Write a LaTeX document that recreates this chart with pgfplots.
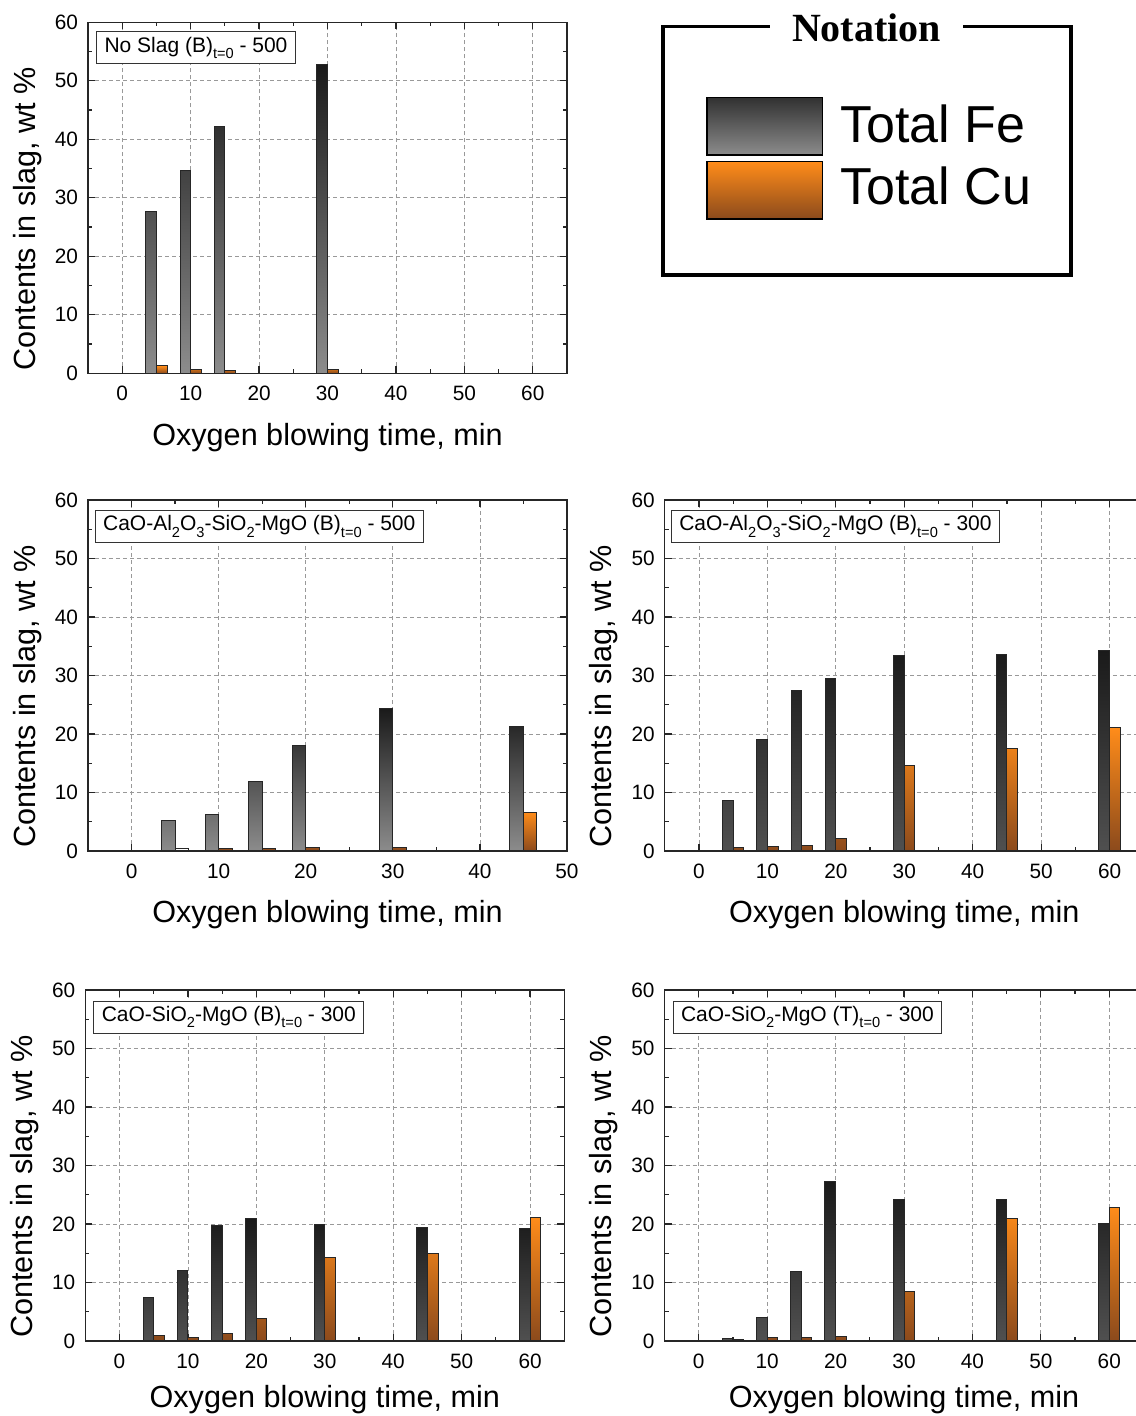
\documentclass[border=0pt]{standalone}
\usepackage{fontspec}
\setmainfont{Liberation Sans}
\newfontfamily\serifbold{Liberation Serif}
\usepackage{pgfplots}
\pgfplotsset{compat=1.18}
\definecolor{feTop}{HTML}{1A1A1A}
\definecolor{feBotA}{HTML}{8C8C8C}
\definecolor{feBotB}{HTML}{505050}
\definecolor{cuTop}{HTML}{FF8C1A}
\definecolor{cuBot}{HTML}{8B4A1C}
\newcommand\sub[1]{\raisebox{-0.55ex}{\fontsize{7.3}{8}\selectfont #1}}
\tikzset{tbox/.style={draw=black!80, line width=0.5pt, fill=white, anchor=north west, inner xsep=4pt, inner ysep=2pt, minimum height=16pt, font=\fontsize{10.5}{12}\selectfont}}
\pgfplotsset{
 panel/.style={
  scale only axis, width=239.5pt, height=175.5pt,
  ymin=0, ymax=60, xmin=-5, xmax=65,
  xtick={0,10,...,60}, ytick={0,10,...,60},
  minor x tick num=1, minor y tick num=1,
  grid=major, major grid style={gray!80, dash pattern=on 2pt off 1.5pt, line width=0.4pt},
  axis line style={line width=0.65pt, black!85},
  tick style={line width=0.6pt, black!85},
  major tick length=3.5pt, minor tick length=2pt,
  tick align=inside,
  ticklabel style={font=\fontsize{10.4}{12}\selectfont},
  /pgf/number format/assume math mode=true,
  xticklabel style={yshift=-3pt},
  yticklabel style={xshift=-1.5pt},
  xlabel={Oxygen blowing time, min},
  ylabel={Contents in slag, wt \%},
  label style={font=\fontsize{15.3}{17}\selectfont},
  xlabel style={at={(axis description cs:0.5,0)}, anchor=base, yshift=-36pt},
  ylabel style={at={(axis description cs:-0.1106,0.44)}, anchor=base},
 },
 bottompanel/.style={xlabel style={yshift=2.8pt}},
 fe/.style={ybar, bar width=1.55, bar shift=-0.775, draw=black!85, line width=0.5pt, top color=feTop, bottom color=#1},
 cu/.style={ybar, bar width=1.55, bar shift=0.775, draw=black!85, line width=0.5pt, top color=cuTop, bottom color=cuBot},
}
\begin{document}
\begin{tikzpicture}
% Panel 1
\begin{axis}[panel, at={(44pt,521.35pt)}, anchor=south west]
\addplot[fe=feBotA] coordinates {(5,27.7) (10,34.7) (15,42.2) (30,52.8)};
\addplot[cu] coordinates {(5,1.25) (10,0.6) (15,0.5) (30,0.7)};
\node[tbox, xshift=4pt, yshift=-4.5pt] at (rel axis cs:0,1) {No Slag (B)\sub{t=0} - 500};
\end{axis}
% Panel 2
\begin{axis}[panel, xmax=50, xtick={0,10,...,50}, at={(44pt,282.5pt)}, anchor=south west]
\addplot[fe=feBotA] coordinates {(5,5.2) (10,6.25) (15,11.95) (20,18.1) (30,24.4) (45,21.2)};
\addplot[cu] coordinates {(10,0.45) (15,0.45) (20,0.55) (30,0.6) (45,6.65)};
\addplot[ybar, bar width=1.55, bar shift=0.775, draw=black!85, line width=0.5pt, fill=white] coordinates {(5,0.45)};
\node[tbox, xshift=3.3pt, yshift=-5pt] at (rel axis cs:0,1) {CaO-Al\sub{2}O\sub{3}-SiO\sub{2}-MgO (B)\sub{t=0} - 500};
\end{axis}
% Panel 3
\begin{axis}[panel, at={(332.4pt,282.5pt)}, anchor=south west]
\addplot[fe=feBotB] coordinates {(5,8.65) (10,19.05) (15,27.5) (20,29.5) (30,33.45) (45,33.55) (60,34.3)};
\addplot[cu] coordinates {(5,0.55) (10,0.8) (15,0.9) (20,2.15) (30,14.55) (45,17.6) (60,21.1)};
\node[tbox, xshift=3pt, yshift=-5pt] at (rel axis cs:0,1) {CaO-Al\sub{2}O\sub{3}-SiO\sub{2}-MgO (B)\sub{t=0} - 300};
\end{axis}
% Panel 4
\begin{axis}[panel, bottompanel, at={(42.65pt,37.5pt)}, anchor=south west]
\addplot[fe=feBotB] coordinates {(5,7.4) (10,12.1) (15,19.8) (20,21.0) (30,19.95) (45,19.35) (60,19.3)};
\addplot[cu] coordinates {(5,0.95) (10,0.55) (15,1.3) (20,3.85) (30,14.2) (45,14.95) (60,21.15)};
\node[tbox, xshift=4pt, yshift=-5.3pt] at (rel axis cs:0,1) {CaO-SiO\sub{2}-MgO (B)\sub{t=0} - 300};
\end{axis}
% Panel 5
\begin{axis}[panel, bottompanel, at={(332.25pt,37.5pt)}, anchor=south west]
\addplot[fe=feBotB] coordinates {(5,0.45) (10,4.0) (15,11.8) (20,27.25) (30,24.2) (45,24.2) (60,20.0)};
\addplot[cu] coordinates {(10,0.55) (15,0.55) (20,0.7) (30,8.4) (45,20.9) (60,22.9)};
\addplot[ybar, bar width=1.55, bar shift=0.775, draw=black!85, line width=0.5pt, fill=gray!40] coordinates {(5,0.3)};
\node[tbox, xshift=4pt, yshift=-5.3pt] at (rel axis cs:0,1) {CaO-SiO\sub{2}-MgO (T)\sub{t=0} - 300};
\end{axis}
% Notation box
\draw[line width=1.65pt, line cap=rect] (384pt,694.65pt) -- (331.5pt,694.65pt) -- (331.5pt,570.5pt) -- (535.5pt,570.5pt) -- (535.5pt,694.65pt) -- (482.5pt,694.65pt);
\node[anchor=base, font=\serifbold\bfseries\fontsize{20}{24}\selectfont, inner sep=0pt] at (433.25pt,687.2pt) {Notation};
\draw[line width=0.7pt, top color=feTop!90!white, bottom color=feBotA] (353.5pt,659.35pt) rectangle (411.35pt,630.5pt);
\draw[line width=0.7pt, top color=cuTop, bottom color=cuBot] (353.5pt,627.15pt) rectangle (411.35pt,598.5pt);
\node[anchor=base west, inner sep=0pt, font=\fontsize{26}{30}\selectfont] at (420pt,636.5pt) {Total Fe};
\node[anchor=base west, inner sep=0pt, font=\fontsize{26}{30}\selectfont] at (420pt,605.5pt) {Total Cu};
\pgfresetboundingbox
\path[use as bounding box] (0,0) rectangle (567.5pt,708pt);
\end{tikzpicture}
\end{document}
